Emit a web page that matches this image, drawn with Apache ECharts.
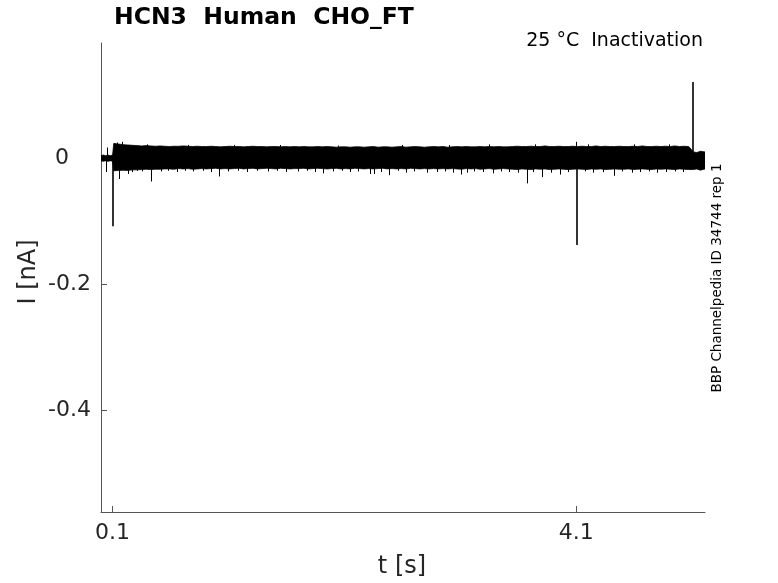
<!DOCTYPE html>
<html>
<head>
<meta charset="utf-8">
<script src="https://cdn.jsdelivr.net/npm/echarts@6/dist/echarts.min.js"></script>
<style>
  html, body { margin: 0; padding: 0; background: #fff; }
  #main { width: 778px; height: 583px; }
</style>
</head>
<body>
<div id="main"></div>
<script>
// tick labels
var xTicks = [0.1, 4.1]
var yTicks = [-0.4, -0.2, 0]

// holding level before the step (t, upper, lower) in nA
var preT = [0, 0.02, 0.04, 0.06, 0.08, 0.10]
var preUp = [0.004, 0.005, 0.004, 0.005, 0.004, 0.005]
var preLo = [-0.004, -0.005, -0.004, -0.005, -0.004, -0.005]

// noise band of the overlaid sweeps, sampled from 0.11 s every 0.04 s
var bandStart = 0.11
var bandStep = 0.04
var bandUp = [
    0.0235, 0.0225, 0.0215, 0.0210, 0.0205, 0.0200, 0.0195, 0.0200, 0.0195, 0.0190,
    0.0195, 0.0190, 0.0185, 0.0190, 0.0190, 0.0195, 0.0190, 0.0185, 0.0190, 0.0185,
    0.0185, 0.0190, 0.0185, 0.0180, 0.0185, 0.0190, 0.0185, 0.0185, 0.0180, 0.0185,
    0.0190, 0.0185, 0.0185, 0.0180, 0.0185, 0.0185, 0.0180, 0.0185, 0.0180, 0.0185,
    0.0180, 0.0185, 0.0180, 0.0180, 0.0185, 0.0180, 0.0185, 0.0180, 0.0175, 0.0180,
    0.0180, 0.0175, 0.0180, 0.0180, 0.0175, 0.0180, 0.0185, 0.0175, 0.0180, 0.0180,
    0.0175, 0.0180, 0.0185, 0.0175, 0.0180, 0.0185, 0.0180, 0.0175, 0.0180, 0.0185,
    0.0180, 0.0185, 0.0175, 0.0180, 0.0185, 0.0180, 0.0185, 0.0180, 0.0180, 0.0185,
    0.0180, 0.0185, 0.0180, 0.0185, 0.0180, 0.0180, 0.0185, 0.0190, 0.0185, 0.0185,
    0.0190, 0.0185, 0.0185, 0.0195, 0.0185, 0.0185, 0.0190, 0.0185, 0.0185, 0.0190,
    0.0185, 0.0190, 0.0185, 0.0185, 0.0195, 0.0185, 0.0190, 0.0185, 0.0185, 0.0190,
    0.0185, 0.0185, 0.0190, 0.0185, 0.0195, 0.0185, 0.0185, 0.0190, 0.0185, 0.0190,
    0.0185, 0.0195, 0.0185, 0.0190, 0.0185
]
var bandLo = [
    -0.0200, -0.0195, -0.0190, -0.0195, -0.0185, -0.0185, -0.0180, -0.0175, -0.0180, -0.0175,
    -0.0175, -0.0170, -0.0170, -0.0175, -0.0165, -0.0170, -0.0165, -0.0175, -0.0170, -0.0165,
    -0.0170, -0.0165, -0.0160, -0.0170, -0.0165, -0.0170, -0.0165, -0.0160, -0.0170, -0.0165,
    -0.0160, -0.0170, -0.0165, -0.0160, -0.0165, -0.0170, -0.0160, -0.0165, -0.0170, -0.0165,
    -0.0165, -0.0160, -0.0170, -0.0165, -0.0160, -0.0165, -0.0170, -0.0165, -0.0160, -0.0170,
    -0.0165, -0.0170, -0.0160, -0.0165, -0.0170, -0.0165, -0.0170, -0.0165, -0.0160, -0.0170,
    -0.0165, -0.0170, -0.0165, -0.0170, -0.0160, -0.0165, -0.0170, -0.0165, -0.0170, -0.0165,
    -0.0170, -0.0165, -0.0170, -0.0165, -0.0170, -0.0175, -0.0165, -0.0170, -0.0165, -0.0175,
    -0.0170, -0.0165, -0.0175, -0.0170, -0.0165, -0.0170, -0.0175, -0.0180, -0.0170, -0.0175,
    -0.0180, -0.0170, -0.0175, -0.0170, -0.0180, -0.0175, -0.0170, -0.0175, -0.0180, -0.0175,
    -0.0170, -0.0175, -0.0180, -0.0170, -0.0175, -0.0170, -0.0180, -0.0175, -0.0170, -0.0175,
    -0.0175, -0.0170, -0.0180, -0.0175, -0.0170, -0.0175, -0.0180, -0.0170, -0.0175, -0.0170,
    -0.0175, -0.0180, -0.0170, -0.0175, -0.0180
]

// tail after the last transient
var postT = [5.11, 5.14, 5.17, 5.21]
var postUp = [0.010, 0.009, 0.011, 0.010]
var postLo = [-0.018, -0.017, -0.019, -0.017]

// capacitive transients
var bigT = [0.105, 4.103, 5.103]
var bigV = [-0.108, -0.138, 0.121]

// larger single-sweep excursions
var hairT = [0.046, 0.055, 0.158, 0.184, 0.235, 0.434, 1.02, 1.92, 2.32, 2.36, 2.49, 2.81, 3.11, 3.16, 3.68, 3.81, 3.96, 4.10, 4.43]
var hairV = [-0.022, 0.017, -0.033, 0.026, -0.025, -0.037, -0.029, -0.024, -0.025, -0.025, -0.027, -0.023, -0.026, -0.023, -0.040, -0.030, -0.026, 0.026, -0.028]

// small fringe along the band edges
var fringeT = [
    0.14, 0.27, 0.31, 0.36, 0.40, 0.52, 0.58, 0.66, 0.73, 0.75, 0.80, 0.88, 0.95, 1.10, 1.15, 1.18, 1.26, 1.35,
    1.44, 1.52, 1.55, 1.60, 1.70, 1.78, 1.85, 2.00, 2.05, 2.08, 2.15, 2.22, 2.42, 2.56, 2.60, 2.63, 2.70, 2.90,
    2.97, 3.00, 3.04, 3.22, 3.30, 3.35, 3.38, 3.45, 3.52, 3.60, 3.73, 3.75, 3.88, 4.03, 4.18, 4.20, 4.25, 4.33,
    4.50, 4.58, 4.60, 4.65, 4.73, 4.80, 4.88, 4.90, 4.95, 5.02
]
var fringeV = [
    0.025, -0.022, -0.020, -0.021, 0.022, -0.021, -0.020, -0.022, -0.020, 0.021, -0.021, -0.020, -0.022, -0.021, 0.021, -0.020, -0.022, -0.020,
    -0.021, -0.020, 0.021, -0.022, -0.021, -0.020, -0.022, -0.021, 0.020, -0.020, -0.022, -0.021, -0.022, -0.020, 0.021, -0.023, -0.021, -0.022,
    -0.021, 0.021, -0.023, -0.021, -0.022, 0.022, -0.024, -0.021, -0.022, -0.023, -0.022, 0.022, -0.023, -0.022, -0.021, 0.022, -0.023, -0.022,
    -0.021, -0.023, 0.022, -0.022, -0.021, -0.023, -0.022, 0.022, -0.021, -0.022
]

var FONT = 'DejaVu Sans'
var TXT = '#262626'

function envelope(which) {
    var pts = []
    var i
    var pre = which === 'up' ? preUp : preLo
    var band = which === 'up' ? bandUp : bandLo
    var post = which === 'up' ? postUp : postLo
    for (i = 0; i < preT.length; i++) pts.push([preT[i], pre[i]])
    for (i = 0; i < band.length; i++) pts.push([+(bandStart + i * bandStep).toFixed(3), band[i]])
    for (i = 0; i < postT.length; i++) pts.push([postT[i], post[i]])
    return pts
}

function segs(ts, vs) {
    var out = []
    for (var i = 0; i < ts.length; i++) {
        out.push({coords: [[ts[i], 0], [ts[i], vs[i]]]})
    }
    return out
}

var myChart = echarts.init(document.getElementById('main'), null, {renderer: 'canvas'})

var option = {
    animation: false,
    backgroundColor: '#fff',
    grid: {left: 101, top: 43, width: 604, height: 469, containLabel: false},
    xAxis: {
        type: 'value',
        min: 0,
        max: 5.21,
        axisLine: {show: true, onZero: false, lineStyle: {color: '#555', width: 1}},
        axisTick: {show: true, inside: true, length: 6, customValues: xTicks, lineStyle: {color: '#555'}},
        axisLabel: {customValues: xTicks, fontFamily: FONT, fontSize: 22, color: TXT, margin: 10},
        splitLine: {show: false}
    },
    yAxis: {
        type: 'value',
        min: -0.562,
        max: 0.183,
        axisLine: {show: true, onZero: false, lineStyle: {color: '#555', width: 1}},
        axisTick: {show: true, inside: true, length: 6, customValues: yTicks, lineStyle: {color: '#555'}},
        axisLabel: {
            customValues: yTicks,
            fontFamily: FONT, fontSize: 22, color: TXT, margin: 10,
            formatter: function (v) {
                return v === 0 ? '{z|0}' : String(v)
            },
            rich: {z: {fontFamily: FONT, fontSize: 22, color: TXT, padding: [0, 22, 0, 0]}}
        },
        splitLine: {show: false}
    },
    series: [
        {
            type: 'line',
            data: envelope('up'),
            symbol: 'none',
            lineStyle: {color: '#000', width: 0.8},
            // overlap the two fills a little so no seam shows at 0
            areaStyle: {color: '#000', opacity: 1, origin: -0.004},
            z: 2
        },
        {
            type: 'line',
            data: envelope('lo'),
            symbol: 'none',
            lineStyle: {color: '#000', width: 0.8},
            areaStyle: {color: '#000', opacity: 1, origin: 0.003},
            z: 2
        },
        {
            type: 'lines',
            coordinateSystem: 'cartesian2d',
            data: segs(fringeT, fringeV),
            lineStyle: {color: '#000', width: 1, opacity: 1},
            z: 3
        },
        {
            type: 'lines',
            coordinateSystem: 'cartesian2d',
            data: segs(hairT, hairV),
            lineStyle: {color: '#000', width: 1, opacity: 1},
            z: 3
        },
        {
            type: 'lines',
            coordinateSystem: 'cartesian2d',
            data: segs(bigT, bigV),
            lineStyle: {color: '#000', width: 1.6, opacity: 1},
            z: 3
        }
    ],
    graphic: [
        {
            type: 'text', left: 114, top: 6,
            style: {text: 'HCN3  Human  CHO_FT', fontFamily: FONT, fontSize: 23.5, fontWeight: 'bold', fill: '#000'}
        },
        {
            type: 'text', x: 703, y: 41,
            style: {text: '25 °C  Inactivation', fontFamily: FONT, fontSize: 19, fill: '#000', align: 'right', verticalAlign: 'middle'}
        },
        {
            type: 'text', x: 402, y: 567,
            style: {text: 't [s]', fontFamily: FONT, fontSize: 24, fill: TXT, align: 'center', verticalAlign: 'middle'}
        },
        {
            type: 'text', x: 29, y: 272, rotation: Math.PI / 2,
            style: {text: 'I [nA]', fontFamily: FONT, fontSize: 24, fill: TXT, align: 'center', verticalAlign: 'middle'}
        },
        {
            type: 'text', x: 717, y: 278, rotation: Math.PI / 2,
            style: {text: 'BBP Channelpedia ID 34744 rep 1', fontFamily: FONT, fontSize: 13.5, fill: '#000', align: 'center', verticalAlign: 'middle'}
        }
    ]
}

myChart.setOption(option)
</script>
</body>
</html>
